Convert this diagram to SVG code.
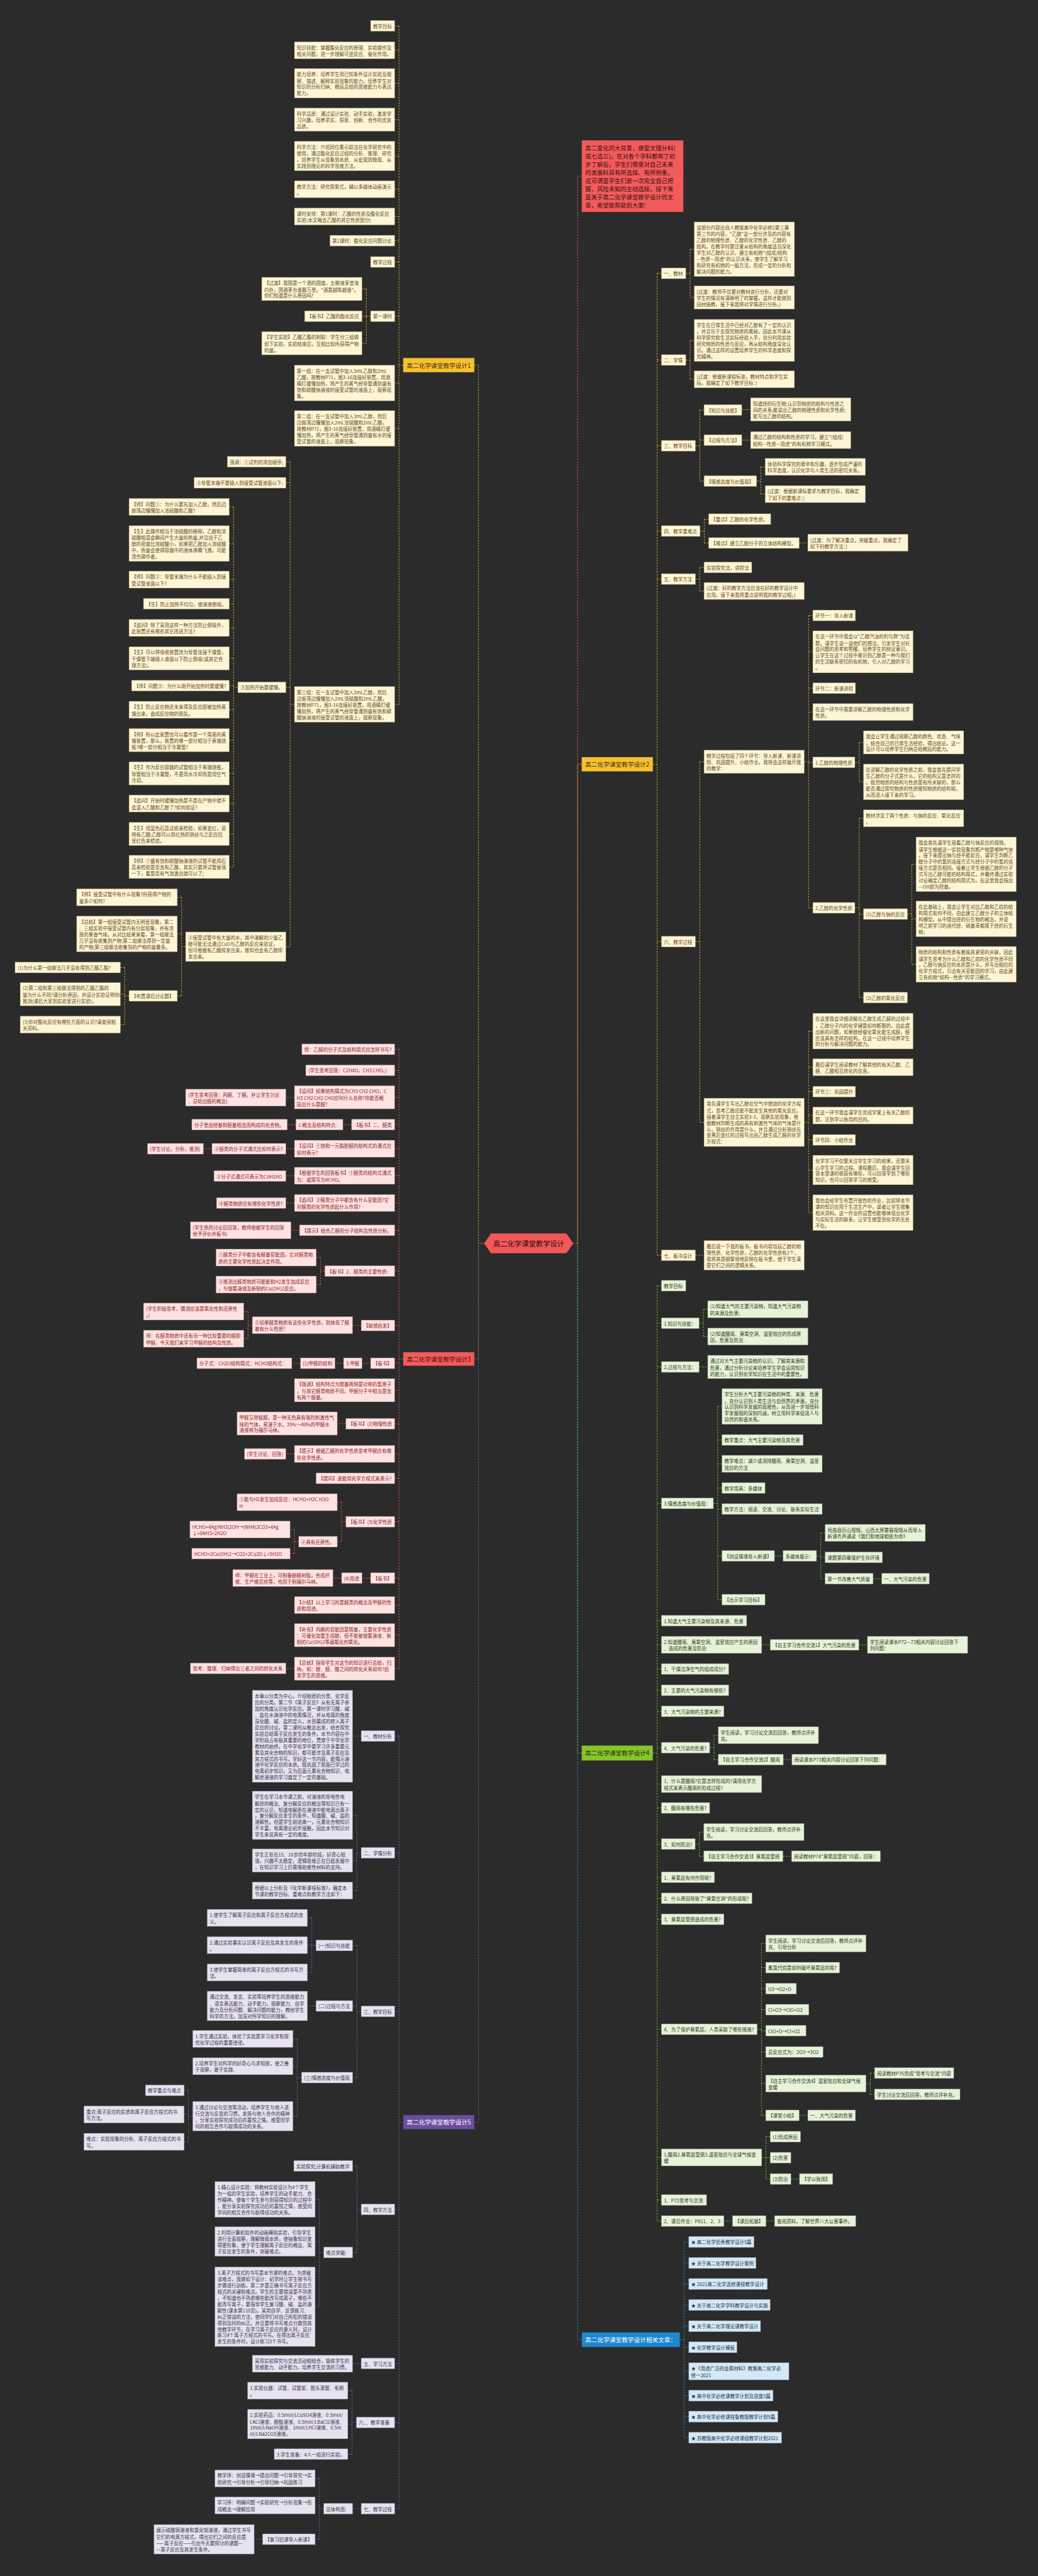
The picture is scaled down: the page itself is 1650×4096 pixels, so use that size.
<svg xmlns="http://www.w3.org/2000/svg" width="1650" height="4096" viewBox="0 0 1650 4096">
<defs>
<style>
text{font-family:"Noto Sans CJK SC","Noto Sans",sans-serif;font-size:11.7px;dominant-baseline:central}
.a{fill:#fdf5d5;stroke:#7a6d48;stroke-width:1;stroke-dasharray:3 2}
.ta{fill:#5e4b1c}
.r{fill:#fde2e2;stroke:#7d5a5a;stroke-width:1;stroke-dasharray:3 2}
.tr{fill:#8e2222}
.p{fill:#e6e2ef;stroke:#6e6880;stroke-width:1;stroke-dasharray:3 2}
.tp{fill:#37324a}
.g{fill:#e6f2d9;stroke:#66735a;stroke-width:1;stroke-dasharray:3 2}
.tg{fill:#2c3a20}
.b{fill:#d5e8f5;stroke:#5a6d7e;stroke-width:1;stroke-dasharray:3 2}
.tb{fill:#1c3146}
.c{fill:none;stroke-width:1.3;stroke-dasharray:4 3}
.cy{stroke:#e4bf3c}.cr{stroke:#e36464}.cp{stroke:#7a66ad}.cg{stroke:#8fc23c}.cb{stroke:#3a95d8}.ck{stroke:#ee6a6a}
.m{font-size:15px;text-anchor:middle}
</style>
</defs>
<rect width="1650" height="4096" fill="#2b2b2b"/>
<g transform="scale(0.644)">
<g id="connectors">
<path class="c ck" d="M1436,435H1425.6V3070H1415"/>
<path class="c cy" d="M1436,1887H1425.6V3070"/>
<path class="c cg" d="M1436,4328.3H1425.6V3070"/>
<path class="c cb" d="M1436,5776.8H1425.6V3070"/>
<path class="c cy" d="M1171,901.5H1181V3070H1195"/>
<path class="c cr" d="M1171,3355.3H1181V3070"/>
<path class="c cp" d="M1171,5239.8H1181V3070"/>
<path class="c cy" d="M995.3,901.5H984.8M984.8,63.9V1739.1M984.8,63.9H974.3M984.8,124.2H974.3M984.8,205.6H974.3M984.8,295.4H974.3M984.8,385.2H974.3M984.8,467.3H974.3M984.8,534.6H974.3M984.8,594.3H974.3M984.8,646.9H974.3M984.8,780.9H974.3M984.8,945.7H974.3M984.8,1057.9H974.3M984.8,1739.1H974.3
M914.7,780.9H904.2M904.2,713.5V847.5M904.2,713.5H893.7M904.2,780.9H893.7M904.2,847.5H893.7
M726.7,1739.1H716.2M716.2,1140V2337.5M716.2,1140H705.7M716.2,1192H705.7M716.2,1697H705.7M716.2,2337.5H705.7
M587,1697H576.5M576.5,1251.5V2140.4M576.5,1251.5H566M576.5,1342H566M576.5,1431H566M576.5,1490.7H566M576.5,1550.3H566M576.5,1625.5H566M576.5,1692.8H566M576.5,1752.4H566M576.5,1827.5H566M576.5,1909.6H566M576.5,1984H566M576.5,2059H566M576.5,2140.4H566
M458.1,2337.5H448.2M448.2,2215.5V2458.9M448.2,2215.5H437.7M448.2,2305.9H437.7M448.2,2458.9H437.7
M318.4,2458.9H307.9M307.9,2388.7V2529.8M307.9,2388.7H297.4M307.9,2454.7H297.4M307.9,2529.8H297.4"/>
<path class="c cr" d="M995.3,3355.3H984.8M984.8,2590.8V4120M984.8,2590.8H974.3M984.8,2642.7H974.3M984.8,2709.3H974.3M984.8,2776.7H974.3M984.8,2836.3H974.3M984.8,2903H974.3M984.8,2970.3H974.3M984.8,3037.7H974.3M984.8,3138.3H974.3M984.8,3272.7H974.3M984.8,3366H974.3M984.8,3432.6H974.3M984.8,3515.4H974.3M984.8,3589.8H974.3M984.8,3650H974.3M984.8,3757.4H974.3M984.8,3896.4H974.3M984.8,3963H974.3M984.8,4037.3H974.3M984.8,4120H974.3
M726.7,2709.6H705.7M867.7,2776.7H846.6M730.2,2776.7H709.2M726.7,2836.3H705.7M523.2,2836.3H502.2M726.7,2903.3H705.7M726.7,2970.3H705.7M739.3,3037.7H718.3
M801.7,3138.3H791.2M791.2,3105V3171.7M791.2,3105H780.7M791.2,3171.7H780.7
M891.5,3272.5H870.4M622.8,3272H612.3M612.3,3238.3V3305.4M612.3,3238.3H601.8M612.3,3305.4H601.8
M914.7,3366H893.7M848,3366H827M741.4,3366H720.4M853.6,3515.2H832.6M726.7,3589.8H705.7
M853.6,3757.4H843.1M843.1,3709V3806.6M843.1,3709H832.6M843.1,3806.6H832.6M737.2,3806.6H726.7M726.7,3776.4V3836M726.7,3776.4H716.2M726.7,3836H716.2
M914.7,3896.4H893.7M843.1,3896.4H822.1M726.7,4119.7H705.7"/>
<path class="c cp" d="M995.3,5239.8H984.8M984.8,4286.4V6194M984.8,4286.4H974.3M984.8,4574.8H974.3M984.8,4966.2H974.3M984.8,5455.2H974.3M984.8,5835.5H974.3M984.8,5981.2H974.3M984.8,6194H974.3
M891.5,4286.7H870.4M891.5,4574.8H881M881,4482.1V4668M881,4482.1H870.4M881,4593.7H870.4M881,4668H870.4
M891.5,4966.2H881M881,4803.4V5129.7M881,4803.4H870.5M881,4952.9H870.5M881,5129.7H870.5
M780,4803.4H769.5M769.5,4735.4V4870M769.5,4735.4H758.9M769.5,4802.7H758.9M769.5,4870H758.9M780,4952.9H758.9
M744.2,5129.7H733.7M733.7,5034.2V5225M733.7,5034.2H723.2M733.7,5101.6H723.2M733.7,5225H723.2
M475.6,5225H465.1M465.1,5161.2V5288.2M465.1,5161.2H454.6M465.1,5220.8H454.6M465.1,5288.2H454.6
M891.5,5455.2H881M881,5347.8V5561.4M881,5347.8H870.5M881,5561.4H870.5
M798.9,5561.4H788.4M788.4,5430.5V5695.4M788.4,5430.5H777.9M788.4,5534.3H777.9M788.4,5695.4H777.9
M891.5,5835.7H870.4M879.6,5981.2H869.1M869.1,5902.7V6059.3M869.1,5902.7H858.6M869.1,5985.2H858.6M869.1,6059.3H858.6
M891.5,6194H870.5M798.9,6194H788.4M788.4,6119.4V6269.5M788.4,6119.4H777.9M788.4,6186H777.9M788.4,6269.5H777.9M648.1,6269.5H627.5"/>
<path class="c cy" d="M1611.4,1887H1622M1622,674.9V3099.4M1622,674.9H1632.5M1622,888.9H1632.5M1622,1100.7H1632.5M1622,1311.2H1632.5M1622,1429.8H1632.5M1622,2324.9H1632.5M1622,3099.4H1632.5
M1692.9,674.9H1703.4M1703.4,615.3V734.5M1703.4,615.3H1713.4M1703.4,734.5H1713.4
M1692.9,888.9H1703.4M1703.4,840.5V936.6M1703.4,840.5H1713.4M1703.4,936.6H1713.4
M1716.7,1100.7H1727.2M1727.2,1012.4V1187.8M1727.2,1012.4H1737.7M1727.2,1086.7H1737.7M1727.2,1187.8H1737.7
M1831.1,1011.5H1852.6M1831.1,1086.7H1852.6M1867.6,1187.8H1878.1M1878.1,1152.7V1220M1878.1,1152.7H1888.6M1878.1,1220H1888.6
M1728,1311.2H1738.5M1738.5,1281.8V1340.7M1738.5,1281.8H1749M1738.5,1340.7H1749M1972.8,1340.4H1993.8
M1716.7,1429.8H1727.2M1727.2,1401V1459.2M1727.2,1401H1737.7M1727.2,1459.2H1737.7
M1716.7,2324.9H1727.2M1727.2,1880.8V2771.1M1727.2,1880.8H1737.7M1727.2,2771.1H1737.7
M1985.3,1880.8H1995.8M1995.8,1519.6V2241.5M1995.8,1519.6H2006.3M1995.8,1609.4H2006.3M1995.8,1699.2H2006.3M1995.8,1758H2006.3M1995.8,1882.3H2006.3M1995.8,2241.5H2006.3
M2110.2,1882.3H2120.7M2120.7,1833V1930.5M2120.7,1833H2131.2M2120.7,1930.5H2131.2
M2110.2,2241.5H2120.7M2120.7,2020.3V2463M2120.7,2020.3H2131.2M2120.7,2256.9H2131.2M2120.7,2463H2131.2
M2240,2256.9H2250.5M2250.5,2134V2381M2250.5,2134H2261M2250.5,2268.8H2261M2250.5,2381H2261
M1985.3,2771.1H1995.8M1995.8,2545.9V2994M1995.8,2545.9H2006.3M1995.8,2635H2006.3M1995.8,2695.4H2006.3M1995.8,2754.3H2006.3M1995.8,2814.6H2006.3M1995.8,2888.9H2006.3M1995.8,2994H2006.3
M1716.7,3099.4H1737.7"/>
<path class="c cg" d="M1611.4,4328.3H1622M1622,3174.5V5483.9M1622,3174.5H1632.5M1622,3267H1632.5M1622,3375H1632.5M1622,3711.9H1632.5M1622,4001.6H1632.5M1622,4061.2H1632.5M1622,4120.9H1632.5M1622,4173.4H1632.5M1622,4225.4H1632.5M1622,4315.2H1632.5M1622,4405H1632.5M1622,4463.9H1632.5M1622,4553H1632.5M1622,4635H1632.5M1622,4687H1632.5M1622,4738.9H1632.5M1622,5010.4H1632.5M1622,5326.8H1632.5M1622,5432H1632.5M1622,5483.9H1632.5
M1725.8,3267H1736.3M1736.3,3232.7V3300M1736.3,3232.7H1746.8M1736.3,3300H1746.8M1725.8,3375H1746.8
M1760.9,3711.9H1771.4M1771.4,3472.5V3949.7M1771.4,3472.5H1781.9M1771.4,3555.4H1781.9M1771.4,3614.3H1781.9M1771.4,3674H1781.9M1771.4,3725.9H1781.9M1771.4,3841.6H1781.9M1771.4,3949.7H1781.9
M1911.7,3841.6H1932.7M2015.5,3841.6H2026M2026,3784.8V3897.8M2026,3784.8H2036.5M2026,3845.2H2036.5M2026,3897.8H2036.5M2155.1,3897.8H2176.1
M1880.1,4061.2H1901.1M2120,4061.2H2141
M1751.8,4315.2H1762.3M1762.3,4284.3V4344.6M1762.3,4284.3H1772.8M1762.3,4344.6H1772.8M1933.5,4344.6H1954.5
M1716,4553H1726.5M1726.5,4523.5V4583.2M1726.5,4523.5H1737M1726.5,4583.2H1737M1932.7,4583.2H1953.7
M1869,5010.4H1879.5M1879.5,4798.5V5223M1879.5,4798.5H1890M1879.5,4858.2H1890M1879.5,4910H1890M1879.5,4962H1890M1879.5,5013.9H1890M1879.5,5066.5H1890M1879.5,5144.4H1890M1879.5,5223H1890
M2137.6,5144.4H2148.1M2148.1,5118.4V5171M2148.1,5118.4H2158.6M2148.1,5171H2158.6M1972.8,5223H1993.8
M1880.1,5326.8H1890.6M1890.6,5275.6V5380.1M1890.6,5275.6H1901.1M1890.6,5327.5H1901.1M1890.6,5380.1H1901.1M1952.3,5380.1H1973.3
M1786.9,5483.9H1807.9M1890.7,5483.9H1911.7"/>
<path class="c cb" d="M1678.1,5776.8H1688.6M1688.6,5535.5V6018.7M1688.6,5535.5H1699.9M1688.6,5587.4H1699.9M1688.6,5639.3H1699.9M1688.6,5691.1H1699.9M1688.6,5743.5H1699.9M1688.6,5795.4H1699.9M1688.6,5854.8H1699.9M1688.6,5914.9H1699.9M1688.6,5966.8H1699.9M1688.6,6018.7H1699.9"/>
</g>

<g id="center"><polygon points="1195,3070 1212,3045.5 1398,3045.5 1415,3070 1398,3094.5 1212,3094.5" fill="#f25858"/><text x="1305" y="3070" style="font-size:17.5px;text-anchor:middle;fill:#2b0b0b">高二化学课堂教学设计</text></g>

<g id="intro"><rect x="1436.1" y="346.6" width="250.5" height="176.7" fill="#f25b5b" stroke="#b03a3a" stroke-dasharray="3 2"/><text x="1444.6" y="364.8" style="font-size:14.5px;fill:#3a0c0c">高二变化的大背景，便是文理分科(<tspan x="1444.6" dy="20.3">或七选三)。在对各个学科都有了初</tspan><tspan x="1444.6" dy="20.3">步了解后，学生们需要对自己未来</tspan><tspan x="1444.6" dy="20.3">的发展科目有所选择、有所侧重。</tspan><tspan x="1444.6" dy="20.3">这可谓是学生们第一次完全自己把</tspan><tspan x="1444.6" dy="20.3">握、风险未知的主动选择。接下来</tspan><tspan x="1444.6" dy="20.3">是关于高二化学课堂教学设计的文</tspan><tspan x="1444.6" dy="20.3">章，希望能帮助到大家!</tspan></text></g>

<g id="main1"><rect x="995.3" y="884" width="175.4" height="35" fill="#f6c130" stroke="#b88f1c" stroke-dasharray="3 2"/><text class="m" x="1083" y="901.5" fill="#3b2f05">高二化学课堂教学设计1</text></g>
<g id="main2"><rect x="1436" y="1869.5" width="175.4" height="35" fill="#f6c130" stroke="#b88f1c" stroke-dasharray="3 2"/><text class="m" x="1523.7" y="1887" fill="#3b2f05">高二化学课堂教学设计2</text></g>
<g id="main3"><rect x="995.3" y="3338.6" width="175.4" height="33.4" fill="#f25b5b" stroke="#b03a3a" stroke-dasharray="3 2"/><text class="m" x="1083" y="3355.3" fill="#4a0a0a">高二化学课堂教学设计3</text></g>
<g id="main4"><rect x="1436" y="4310" width="175.4" height="36.6" fill="#86c42c" stroke="#5a8a1c" stroke-dasharray="3 2"/><text class="m" x="1523.7" y="4328.3" fill="#1c2b05">高二化学课堂教学设计4</text></g>
<g id="main5"><rect x="995.3" y="5222.2" width="175.4" height="35.1" fill="#6b4f9e" stroke="#4a3575" stroke-dasharray="3 2"/><text class="m" x="1083" y="5239.8" fill="#ffffff">高二化学课堂教学设计5</text></g>
<g id="main6"><rect x="1436.1" y="5758.8" width="242" height="36" fill="#1e88d0" stroke="#145f94" stroke-dasharray="3 2"/><text class="m" x="1557" y="5776.8" fill="#ffffff">高二化学课堂教学设计相关文章：</text></g>

<g id="s1a"><rect class="a" x="914.7" y="50.5" width="59.6" height="26.7"/><text class="ta" x="920.7" y="64">教学目标</text></g>
<g id="s1b"><rect class="a" x="726.7" y="103.1" width="247.6" height="42.1"/><text class="ta" x="732.7" y="116.6">知识技能：掌握酯化反应的原理、实验操作及<tspan x="732.7" dy="15.4">相关问题，进一步理解可逆反应、催化作用。</tspan></text></g>
<g id="s1c"><rect class="a" x="726.7" y="169.1" width="247.6" height="72.9"/><text class="ta" x="732.7" y="182.6">能力培养：培养学生用已知条件设计实验及观<tspan x="732.7" dy="15.4">察、描述、解释实验现象的能力，培养学生对</tspan><tspan x="732.7" dy="15.4">知识的分析归纳、概括总结的思维能力与表达</tspan><tspan x="732.7" dy="15.4">能力。</tspan></text></g>
<g id="s1d"><rect class="a" x="726.7" y="266.6" width="247.6" height="57.5"/><text class="ta" x="732.7" y="280.1">科学品质：通过设计实验、动手实验，激发学<tspan x="732.7" dy="15.4">习兴趣，培养求实、探索、创新、合作的优良</tspan><tspan x="732.7" dy="15.4">品质。</tspan></text></g>
<g id="s1e"><rect class="a" x="726.7" y="348.7" width="247.6" height="72.9"/><text class="ta" x="732.7" y="362.2">科学方法：介绍同位素示踪法在化学研究中的<tspan x="732.7" dy="15.4">使用，通过酯化反应过程的分析、推理、研究</tspan><tspan x="732.7" dy="15.4">，培养学生从现象到本质、从宏观到微观、从</tspan><tspan x="732.7" dy="15.4">实践到理论的科学思维方法。</tspan></text></g>
<g id="s1f"><rect class="a" x="726.7" y="446.2" width="247.6" height="42.1"/><text class="ta" x="732.7" y="459.7">教学方法：研究探索式，辅以多媒体动画演示<tspan x="732.7" dy="15.4">。</tspan></text></g>
<g id="s1g"><rect class="a" x="726.7" y="513.5" width="247.6" height="42.1"/><text class="ta" x="732.7" y="527">课时安排：第1课时：乙酸的性质及酯化反应<tspan x="732.7" dy="15.4">实验(本文略去乙酸的其它性质部分)</tspan></text></g>
<g id="s1h"><rect class="a" x="814.3" y="580.9" width="160" height="26.7"/><text class="ta" x="820.3" y="594.4">第2课时：酯化反应问题讨论</text></g>
<g id="s1i"><rect class="a" x="914.7" y="633.5" width="59.6" height="26.7"/><text class="ta" x="920.7" y="647">教学过程</text></g>
<g id="s1j"><rect class="a" x="914.7" y="767.5" width="59.6" height="26.7"/><text class="ta" x="920.7" y="781">第一课时</text></g>
<g id="s1j1"><rect class="a" x="646" y="684.7" width="247.6" height="57.5"/><text class="ta" x="652" y="698.2">【过渡】我国是一个酒的国度，五粮液享誉海<tspan x="652" dy="15.4">内外，国酒茅台香飘万里。"酒是越陈越香"。</tspan><tspan x="652" dy="15.4">你们知道是什么原因吗?</tspan></text></g>
<g id="s1j2"><rect class="a" x="751.9" y="767.5" width="141.7" height="26.7"/><text class="ta" x="757.9" y="781">【板书】乙酸的酯化反应</text></g>
<g id="s1j3"><rect class="a" x="646" y="818.7" width="247.6" height="57.5"/><text class="ta" x="652" y="832.2">【学生实验】乙酸乙酯的制取：学生分三组做<tspan x="652" dy="15.4">如下实验，实验结束后，互相比较所获得产物</tspan><tspan x="652" dy="15.4">的量。</tspan></text></g>
<g id="s1k"><rect class="a" x="726.7" y="901.5" width="247.6" height="88.3"/><text class="ta" x="732.7" y="915">第一组：在一支试管中加入3mL乙醇和2mL<tspan x="732.7" dy="15.4">乙酸，按教材P71，图3-16连接好装置，用酒</tspan><tspan x="732.7" dy="15.4">精灯缓慢加热，将产生的蒸气经导管通到盛有</tspan><tspan x="732.7" dy="15.4">饱和碳酸钠溶液的接受试管的液面上，观察现</tspan><tspan x="732.7" dy="15.4">象。</tspan></text></g>
<g id="s1l"><rect class="a" x="726.7" y="1013.7" width="247.6" height="88.3"/><text class="ta" x="732.7" y="1027.2">第二组：在一支试管中加入3mL乙醇，然后<tspan x="732.7" dy="15.4">边振荡边慢慢加入2mL浓硫酸和2mL乙酸，</tspan><tspan x="732.7" dy="15.4">按教材P71，图3-16连接好装置，用酒精灯缓</tspan><tspan x="732.7" dy="15.4">慢加热，将产生的蒸气经导管通到盛有水的接</tspan><tspan x="732.7" dy="15.4">受试管的液面上，观察现象。</tspan></text></g>
<g id="s1m"><rect class="a" x="726.7" y="1694.9" width="247.6" height="88.3"/><text class="ta" x="732.7" y="1708.4">第三组：在一支试管中加入3mL乙醇，然后<tspan x="732.7" dy="15.4">边振荡边慢慢加入2mL浓硫酸和2mL乙酸，</tspan><tspan x="732.7" dy="15.4">按教材P71，图3-16连接好装置，用酒精灯缓</tspan><tspan x="732.7" dy="15.4">慢加热，将产生的蒸气经导管通到盛有饱和碳</tspan><tspan x="732.7" dy="15.4">酸钠溶液的接受试管的液面上，观察现象。</tspan></text></g>
<g id="m1"><rect class="a" x="561.1" y="1126.7" width="144.6" height="26.7"/><text class="ta" x="567.1" y="1140.2">强调：①试剂的添加顺序;</text></g>
<g id="m2"><rect class="a" x="479" y="1178.6" width="226.7" height="26.7"/><text class="ta" x="485" y="1192.1">②导管末端不要插入到接受试管液面以下;</text></g>
<g id="m3"><rect class="a" x="587" y="1683.7" width="118.7" height="26.7"/><text class="ta" x="593" y="1697.2">③加热开始要缓慢。</text></g>
<g id="m3a"><rect class="a" x="318.4" y="1230.5" width="247.6" height="42.1"/><text class="ta" x="324.4" y="1244">【师】问题①：为什么要先加入乙醇，然后边<tspan x="324.4" dy="15.4">振荡边慢慢加入浓硫酸和乙酸?</tspan></text></g>
<g id="m3b"><rect class="a" x="318.4" y="1297.8" width="247.6" height="88.3"/><text class="ta" x="324.4" y="1311.3">【生】此操作相当于浓硫酸的稀释，乙醇和浓<tspan x="324.4" dy="15.4">硫酸相混会瞬间产生大量的热量,并且由于乙</tspan><tspan x="324.4" dy="15.4">醇的密度比浓硫酸小，如果把乙醇加入浓硫酸</tspan><tspan x="324.4" dy="15.4">中，热量会使得容器中的液体沸腾飞溅，可能</tspan><tspan x="324.4" dy="15.4">烫伤操作者。</tspan></text></g>
<g id="m3c"><rect class="a" x="318.4" y="1410" width="247.6" height="42.1"/><text class="ta" x="324.4" y="1423.5">【师】问题②：导管末端为什么不能插入到接<tspan x="324.4" dy="15.4">受试管液面以下?</tspan></text></g>
<g id="m3d"><rect class="a" x="354.1" y="1477.4" width="211.9" height="26.7"/><text class="ta" x="360.1" y="1490.9">【生】防止加热不均匀，使溶液倒吸。</text></g>
<g id="m3e"><rect class="a" x="318.4" y="1529.3" width="247.6" height="42.1"/><text class="ta" x="324.4" y="1542.8">【追问】除了采用这样一种方法防止倒吸外，<tspan x="324.4" dy="15.4">此装置还有哪些其它改进方法?</tspan></text></g>
<g id="m3f"><rect class="a" x="318.4" y="1596.7" width="247.6" height="57.5"/><text class="ta" x="324.4" y="1610.2">【生】可以将吸收装置改为导管连接干燥管，<tspan x="324.4" dy="15.4">干燥管下端插入液面以下防止倒吸(或其它合</tspan><tspan x="324.4" dy="15.4">理方法)。</tspan></text></g>
<g id="m3g"><rect class="a" x="324.7" y="1679.5" width="241.3" height="26.7"/><text class="ta" x="330.7" y="1693">【师】问题③：为什么刚开始加热时要缓慢?</text></g>
<g id="m3h"><rect class="a" x="318.4" y="1731.4" width="247.6" height="42.1"/><text class="ta" x="324.4" y="1744.9">【生】防止反应物还未来得及反应即被加热蒸<tspan x="324.4" dy="15.4">馏出来，造成反应物的损失。</tspan></text></g>
<g id="m3i"><rect class="a" x="318.4" y="1798.7" width="247.6" height="57.5"/><text class="ta" x="324.4" y="1812.2">【师】所以此装置也可以看作是一个简易的蒸<tspan x="324.4" dy="15.4">馏装置，那么，装置的哪一部分相当于蒸馏烧</tspan><tspan x="324.4" dy="15.4">瓶?哪一部分相当于冷凝管?</tspan></text></g>
<g id="m3j"><rect class="a" x="318.4" y="1880.8" width="247.6" height="57.5"/><text class="ta" x="324.4" y="1894.3">【生】作为反应容器的试管相当于蒸馏烧瓶，<tspan x="324.4" dy="15.4">导管相当于冷凝管，不是用水冷却而是用空气</tspan><tspan x="324.4" dy="15.4">冷却。</tspan></text></g>
<g id="m3k"><rect class="a" x="318.4" y="1962.9" width="247.6" height="42.1"/><text class="ta" x="324.4" y="1976.4">【追问】开始时缓慢加热是不是在产物中就不<tspan x="324.4" dy="15.4">会混入乙酸和乙醇了?如何验证?</tspan></text></g>
<g id="m3l"><rect class="a" x="318.4" y="2030.2" width="247.6" height="57.5"/><text class="ta" x="324.4" y="2043.7">【生】用蓝色石蕊试纸来检验，如果变红，说<tspan x="324.4" dy="15.4">明有乙酸;乙醇可以用红热的铜丝与之反应后</tspan><tspan x="324.4" dy="15.4">显红色来检验。</tspan></text></g>
<g id="m3m"><rect class="a" x="318.4" y="2111.6" width="247.6" height="57.5"/><text class="ta" x="324.4" y="2125.1">【师】①盛有饱和碳酸钠溶液的试管不能用石<tspan x="324.4" dy="15.4">蕊来检验是否含有乙酸，其实只要将试管振荡</tspan><tspan x="324.4" dy="15.4">一下，看是否有气泡逸出就可以了;</tspan></text></g>
<g id="m4"><rect class="a" x="458.1" y="2301" width="247.6" height="72.9"/><text class="ta" x="464.1" y="2314.5">②接受试管中有大量的水，其中溶解的少量乙<tspan x="464.1" dy="15.4">醇可能无法通过CuO与乙醇的反应来验证，</tspan><tspan x="464.1" dy="15.4">但可根据有乙酸挥发出来，推知也会有乙醇挥</tspan><tspan x="464.1" dy="15.4">发出来。</tspan></text></g>
<g id="m4a"><rect class="a" x="189.1" y="2194.4" width="248.6" height="42.1"/><text class="ta" x="195.1" y="2207.9">【师】接受试管中有什么现象?所获得产物的<tspan x="195.1" dy="15.4">量多少如何?</tspan></text></g>
<g id="m4b"><rect class="a" x="189.1" y="2261.7" width="248.6" height="88.3"/><text class="ta" x="195.1" y="2275.2">【总结】第一组接受试管内无明显现象，第二<tspan x="195.1" dy="15.4">、三组实验中接受试管内有分层现象，并有浓</tspan><tspan x="195.1" dy="15.4">厚的果香气味。从对比结果来看，第一组做法</tspan><tspan x="195.1" dy="15.4">几乎没有收集到产物;第二组做法得到一定量</tspan><tspan x="195.1" dy="15.4">的产物;第三组做法收集到的产物的量最多。</tspan></text></g>
<g id="m4c"><rect class="a" x="318.4" y="2445.5" width="119.3" height="26.7"/><text class="ta" x="324.4" y="2459">【布置课后讨论题】</text></g>
<g id="m4c1"><rect class="a" x="37" y="2375.4" width="260.4" height="26.7"/><text class="ta" x="43" y="2388.9">(1)为什么第一组做法几乎没有得到乙酸乙酯?</text></g>
<g id="m4c2"><rect class="a" x="49.8" y="2425.9" width="247.6" height="57.5"/><text class="ta" x="55.8" y="2439.4">(2)第二组和第三组做法得到的乙酸乙酯的<tspan x="55.8" dy="15.4">量为什么不同?请分析原因，并设计实验证明你的</tspan><tspan x="55.8" dy="15.4">推测(课后大家到实验室进行实验)。</tspan></text></g>
<g id="m4c3"><rect class="a" x="49.8" y="2508.7" width="247.6" height="42.1"/><text class="ta" x="55.8" y="2522.2">(3)你对酯化反应有哪些方面的认识?请查阅相<tspan x="55.8" dy="15.4">关资料。</tspan></text></g>

<g id="r1"><rect class="r" x="744.9" y="2577.4" width="229.4" height="26.7"/><text class="tr" x="750.9" y="2590.9">师：乙醛的分子式及结构简式应怎样书写?</text></g>
<g id="r2"><rect class="r" x="754.7" y="2629.3" width="219.6" height="26.7"/><text class="tr" x="760.7" y="2642.8">(学生思考回答：C2H4O，CH3 CHO。)</text></g>
<g id="r3"><rect class="r" x="726.7" y="2680.5" width="247.6" height="57.5"/><text class="tr" x="732.7" y="2694">【设问】如果结构简式为CH3 CH2 CHO，C<tspan x="732.7" dy="15.4">H3 CH2 CH2 CHO应叫什么名称?你能否概</tspan><tspan x="732.7" dy="15.4">括出什么是醛?</tspan></text></g>
<g id="r3a"><rect class="r" x="458.1" y="2689" width="247.6" height="42.1"/><text class="tr" x="464.1" y="2702.5">(学生思考回答：丙醛、丁醛。并让学生讨论<tspan x="464.1" dy="15.4">、总结出醛的概念)</tspan></text></g>
<g id="r4"><rect class="r" x="867.7" y="2763.3" width="106.6" height="26.7"/><text class="tr" x="873.7" y="2776.8">【板书】二、醛类</text></g>
<g id="r4a"><rect class="r" x="730.2" y="2763.3" width="116.4" height="26.7"/><text class="tr" x="736.2" y="2776.8">1.概念及结构特点:</text></g>
<g id="r4a1"><rect class="r" x="473.4" y="2763.3" width="235.8" height="26.7"/><text class="tr" x="479.4" y="2776.8">分子里由烃基和醛基相连而构成的化合物。</text></g>
<g id="r5"><rect class="r" x="726.7" y="2815.2" width="247.6" height="42.1"/><text class="tr" x="732.7" y="2828.7">【设问】①饱和一元脂肪醛的结构式的通式应<tspan x="732.7" dy="15.4">如何表示?</tspan></text></g>
<g id="r5a"><rect class="r" x="523.2" y="2823" width="182.5" height="26.7"/><text class="tr" x="529.2" y="2836.5">②醛类的分子式通式应如何表示?</text></g>
<g id="r5a1"><rect class="r" x="364" y="2823" width="138.2" height="26.7"/><text class="tr" x="370" y="2836.5">(学生讨论，分析，推测)</text></g>
<g id="r6"><rect class="r" x="726.7" y="2881.9" width="247.6" height="42.1"/><text class="tr" x="732.7" y="2895.4">【根据学生的回答板书】①醛类的结构式通式<tspan x="732.7" dy="15.4">为：或简写为RCHO。</tspan></text></g>
<g id="r6a"><rect class="r" x="528.1" y="2890.3" width="177.6" height="26.7"/><text class="tr" x="534.1" y="2903.8">②分子式通式可表示为CnH2nO</text></g>
<g id="r7"><rect class="r" x="726.7" y="2949.2" width="247.6" height="42.1"/><text class="tr" x="732.7" y="2962.7">【追问】③醛类分子中都含有什么官能团?它<tspan x="732.7" dy="15.4">对醛类的化学性质起什么作用?</tspan></text></g>
<g id="r7a"><rect class="r" x="534.4" y="2957" width="171.3" height="26.7"/><text class="tr" x="540.4" y="2970.5">④醛类物质应有哪些化学性质?</text></g>
<g id="r8"><rect class="r" x="739.3" y="3024.3" width="235" height="26.7"/><text class="tr" x="745.3" y="3037.8">【提示】结合乙醛的分子结构及性质分析。</text></g>
<g id="r8a"><rect class="r" x="469.9" y="3016.6" width="248.4" height="42.1"/><text class="tr" x="475.9" y="3030.1">(学生热烈讨论后回答，教师根据学生的回答<tspan x="475.9" dy="15.4">给予评价并板书)</tspan></text></g>
<g id="r9"><rect class="r" x="801.7" y="3125" width="172.6" height="26.7"/><text class="tr" x="807.7" y="3138.5">【板书】2、醛类的主要性质:</text></g>
<g id="r9a"><rect class="r" x="533.1" y="3083.9" width="247.6" height="42.1"/><text class="tr" x="539.1" y="3097.4">①醛类分子中都含有醛基官能团，它对醛类物<tspan x="539.1" dy="15.4">质的主要化学性质起决定作用。</tspan></text></g>
<g id="r9b"><rect class="r" x="533.1" y="3150.6" width="247.6" height="42.1"/><text class="tr" x="539.1" y="3164.1">②推测出醛类物质可能能和H2发生加成反应<tspan x="539.1" dy="15.4">，与银氨溶液及新制的Cu(OH)2反应。</tspan></text></g>
<g id="r10"><rect class="r" x="891.5" y="3259.3" width="82.8" height="26.7"/><text class="tr" x="897.5" y="3272.8">【联想启发】</text></g>
<g id="r10a"><rect class="r" x="622.8" y="3250.9" width="247.6" height="42.1"/><text class="tr" x="628.8" y="3264.4">⑤如果醛类物质有这些化学性质，则体现了醛<tspan x="628.8" dy="15.4">基有什么性质?</tspan></text></g>
<g id="r10a1"><rect class="r" x="354.2" y="3217.2" width="247.6" height="42.1"/><text class="tr" x="360.2" y="3230.7">(学生积极思考，猜测应该是氧化性和还原性<tspan x="360.2" dy="15.4">。)</tspan></text></g>
<g id="r10a2"><rect class="r" x="354.2" y="3284.3" width="247.6" height="42.1"/><text class="tr" x="360.2" y="3297.8">师：在醛类物质中还有另一种比较重要的醛即<tspan x="360.2" dy="15.4">甲醛，今天我们来学习甲醛的结构及性质。</tspan></text></g>
<g id="r11"><rect class="r" x="914.7" y="3352.6" width="59.6" height="26.7"/><text class="tr" x="920.7" y="3366.1">【板书】</text></g>
<g id="r11a"><rect class="r" x="848" y="3352.6" width="45.7" height="26.7"/><text class="tr" x="854" y="3366.1">3.甲醛</text></g>
<g id="r11b"><rect class="r" x="741.4" y="3352.6" width="85.6" height="26.7"/><text class="tr" x="747.4" y="3366.1">(1)甲醛的结构</text></g>
<g id="r11c"><rect class="r" x="486" y="3352.6" width="234.4" height="26.7"/><text class="tr" x="492" y="3366.1">分子式：CH2O结构简式：HCHO结构式：</text></g>
<g id="r12"><rect class="r" x="726.7" y="3403.8" width="247.6" height="57.5"/><text class="tr" x="732.7" y="3417.3">【强调】结构特点为羰基两侧是对称的氢原子<tspan x="732.7" dy="15.4">，与其它醛类物质不同，甲醛分子中相当是含</tspan><tspan x="732.7" dy="15.4">有两个醛基。</tspan></text></g>
<g id="r13"><rect class="r" x="853.6" y="3502" width="120.7" height="26.7"/><text class="tr" x="859.6" y="3515.5">【板书】(2)物理性质</text></g>
<g id="r13a"><rect class="r" x="585" y="3485.9" width="247.6" height="57.5"/><text class="tr" x="591" y="3499.4">甲醛又称蚁醛，是一种无色具有强烈刺激性气<tspan x="591" dy="15.4">味的气体，易溶于水。35%～40%的甲醛水</tspan><tspan x="591" dy="15.4">溶液称为福尔马林。</tspan></text></g>
<g id="r14"><rect class="r" x="726.7" y="3568.7" width="247.6" height="42.1"/><text class="tr" x="732.7" y="3582.2">【提示】根据乙醛的化学性质思考甲醛应有哪<tspan x="732.7" dy="15.4">些化学性质。</tspan></text></g>
<g id="r14a"><rect class="r" x="603.2" y="3576.4" width="102.5" height="26.7"/><text class="tr" x="609.2" y="3589.9">(学生讨论、回答)</text></g>
<g id="r15"><rect class="r" x="780" y="3636.7" width="194.3" height="26.7"/><text class="tr" x="786" y="3650.2">【提问】谁能用化学方程式来表示?</text></g>
<g id="r16"><rect class="r" x="853.6" y="3744" width="120.7" height="26.7"/><text class="tr" x="859.6" y="3757.5">【板书】(3)化学性质</text></g>
<g id="r16a"><rect class="r" x="585" y="3688" width="247.6" height="42.1"/><text class="tr" x="591" y="3701.5">①能与H2发生加成反应：HCHO+H2C H3O<tspan x="591" dy="15.4">H</tspan></text></g>
<g id="r16b"><rect class="r" x="737.2" y="3793.2" width="95.4" height="26.7"/><text class="tr" x="743.2" y="3806.7">②具有还原性。</text></g>
<g id="r16b1"><rect class="r" x="468.6" y="3755.3" width="247.6" height="42.1"/><text class="tr" x="474.6" y="3768.8">HCHO+4Ag(NH3)2OH→(NH4)2CO3+4Ag<tspan x="474.6" dy="15.4">↓+6NH3+2H2O</tspan></text></g>
<g id="r16b2"><rect class="r" x="473.4" y="3822.6" width="242.8" height="26.7"/><text class="tr" x="479.4" y="3836.1">HCHO+2Cu(OH)2→CO2+2Cu2O↓+5H2O</text></g>
<g id="r17"><rect class="r" x="914.7" y="3883" width="59.6" height="26.7"/><text class="tr" x="920.7" y="3896.5">【板书】</text></g>
<g id="r17a"><rect class="r" x="843.1" y="3883" width="50.6" height="26.7"/><text class="tr" x="849.1" y="3896.5">(4)用途</text></g>
<g id="r17b"><rect class="r" x="574.5" y="3875.2" width="247.6" height="42.1"/><text class="tr" x="580.5" y="3888.7">师：甲醛在工业上，可制备酚醛树脂，合成纤<tspan x="580.5" dy="15.4">维、生产维尼纶等，也用于制福尔马林。</tspan></text></g>
<g id="r18"><rect class="r" x="726.7" y="3941.9" width="247.6" height="42.1"/><text class="tr" x="732.7" y="3955.4">【小结】以上学习的是醛类的概念及甲醛的性<tspan x="732.7" dy="15.4">质和用途。</tspan></text></g>
<g id="r19"><rect class="r" x="726.7" y="4008.5" width="247.6" height="57.5"/><text class="tr" x="732.7" y="4022">【补充】丙酮的官能团是羰基，主要化学性质<tspan x="732.7" dy="15.4">：可催化加氢生成醇，但不能被银氨溶液、新</tspan><tspan x="732.7" dy="15.4">制的Cu(OH)2等弱氧化剂氧化。</tspan></text></g>
<g id="r20"><rect class="r" x="726.7" y="4091.3" width="247.6" height="57.5"/><text class="tr" x="732.7" y="4104.8">【总结】指导学生对这节的知识进行总结，归<tspan x="732.7" dy="15.4">纳，如：醇、醛、酸之间的转化关系如何?启</tspan><tspan x="732.7" dy="15.4">发学生的思维。</tspan></text></g>
<g id="r20a"><rect class="r" x="469.9" y="4106" width="235.8" height="26.7"/><text class="tr" x="475.9" y="4119.5">思考、整理、归纳得出三者之间的转化关系</text></g>

<g id="p1"><rect class="p" x="891.5" y="4273" width="82.8" height="26.7"/><text class="tp" x="897.5" y="4286.5">一、教材分析</text></g>
<g id="p1a"><rect class="p" x="622.8" y="4173.4" width="247.6" height="227.2"/><text class="tp" x="628.8" y="4186.9">本章以分类为中心，介绍物质的分类、化学反<tspan x="628.8" dy="15.4">应的分类。第二节《离子反应》从有无离子参</tspan><tspan x="628.8" dy="15.4">加的角度认识化学反应。第一课时学习酸、碱</tspan><tspan x="628.8" dy="15.4">、盐在水溶液中的电离情况，并从电离的角度</tspan><tspan x="628.8" dy="15.4">深化酸、碱、盐的定义，水到渠成的转入离子</tspan><tspan x="628.8" dy="15.4">反应的讨论。第二课时从概念出发，结合探究</tspan><tspan x="628.8" dy="15.4">实验总结离子反应发生的条件。本节内容在中</tspan><tspan x="628.8" dy="15.4">学阶段占有极其重要的地位，贯穿于中学化学</tspan><tspan x="628.8" dy="15.4">教材的始终。在中学化学中要学习许多重要元</tspan><tspan x="628.8" dy="15.4">素及其化合物的知识，都可能涉及离子反应及</tspan><tspan x="628.8" dy="15.4">其方程式的书写。学好这一节内容，能揭示溶</tspan><tspan x="628.8" dy="15.4">液中化学反应的本质。既巩固了前面已学过的</tspan><tspan x="628.8" dy="15.4">电离初步知识，又为后面元素化合物知识、电</tspan><tspan x="628.8" dy="15.4">解质溶液的学习奠定了一定的基础。</tspan></text></g>
<g id="p2"><rect class="p" x="891.5" y="4561.4" width="82.8" height="26.7"/><text class="tp" x="897.5" y="4574.9">二、学情分析</text></g>
<g id="p2a"><rect class="p" x="622.8" y="4422.4" width="247.6" height="119.4"/><text class="tp" x="628.8" y="4435.9">学生在学习本节课之前，对溶液的导电性电<tspan x="628.8" dy="15.4">解质的概念、复分解反应的概念等知识已有一</tspan><tspan x="628.8" dy="15.4">定的认识，知道电解质在溶液中能电离出离子</tspan><tspan x="628.8" dy="15.4">，复分解反应发生的条件，知道酸、碱、盐的</tspan><tspan x="628.8" dy="15.4">溶解性。但是学生刚进高一，元素化合物知识</tspan><tspan x="628.8" dy="15.4">不丰富，电离理论初步接触，因此本节知识对</tspan><tspan x="628.8" dy="15.4">学生来说具有一定的难度。</tspan></text></g>
<g id="p2b"><rect class="p" x="622.8" y="4564.9" width="247.6" height="57.5"/><text class="tp" x="628.8" y="4578.4">学生正处在15、16岁的年龄阶段，好奇心较<tspan x="628.8" dy="15.4">强，兴趣不太稳定，逻辑思维正在日趋发展中</tspan><tspan x="628.8" dy="15.4">，在知识学习上仍需借助感性材料的支持。</tspan></text></g>
<g id="p2c"><rect class="p" x="622.8" y="4646.9" width="247.6" height="42.1"/><text class="tp" x="628.8" y="4660.4">根据以上分析及《化学新课程标准》，确定本<tspan x="628.8" dy="15.4">节课的教学目标、重难点和教学方法如下：</tspan></text></g>
<g id="p3"><rect class="p" x="891.5" y="4952.8" width="82.8" height="26.7"/><text class="tp" x="897.5" y="4966.3">三、教学目标</text></g>
<g id="p3a"><rect class="p" x="780" y="4790" width="90.5" height="26.7"/><text class="tp" x="786" y="4803.5">(一)知识与技能</text></g>
<g id="p3a1"><rect class="p" x="511.3" y="4714.3" width="247.6" height="42.1"/><text class="tp" x="517.3" y="4727.8">1.使学生了解离子反应和离子反应方程式的含<tspan x="517.3" dy="15.4">义。</tspan></text></g>
<g id="p3a2"><rect class="p" x="511.3" y="4781.6" width="247.6" height="42.1"/><text class="tp" x="517.3" y="4795.1">2.通过实验事实认识离子反应及其发生的条件<tspan x="517.3" dy="15.4">。</tspan></text></g>
<g id="p3a3"><rect class="p" x="511.3" y="4849" width="247.6" height="42.1"/><text class="tp" x="517.3" y="4862.5">3.使学生掌握简单的离子反应方程式的书写方<tspan x="517.3" dy="15.4">法。</tspan></text></g>
<g id="p3b"><rect class="p" x="780" y="4939.5" width="90.5" height="26.7"/><text class="tp" x="786" y="4953">(二)过程与方法</text></g>
<g id="p3b1"><rect class="p" x="511.3" y="4916.3" width="247.6" height="72.9"/><text class="tp" x="517.3" y="4929.8">通过交流、发言、实验等培养学生的思维能力<tspan x="517.3" dy="15.4">、语言表达能力、动手能力，观察能力、自学</tspan><tspan x="517.3" dy="15.4">能力及分析问题、解决问题的能力，教给学生</tspan><tspan x="517.3" dy="15.4">科学的方法，加深对所学知识的理解。</tspan></text></g>
<g id="p3c"><rect class="p" x="744.2" y="5116.3" width="126.3" height="26.7"/><text class="tp" x="750.2" y="5129.8">(三)情感态度与价值观</text></g>
<g id="p3c1"><rect class="p" x="475.6" y="5013.1" width="247.6" height="42.1"/><text class="tp" x="481.6" y="5026.6">1.学生通过实验，体验了实验是学习化学和探<tspan x="481.6" dy="15.4">究化学过程的重要途径。</tspan></text></g>
<g id="p3c2"><rect class="p" x="475.6" y="5080.5" width="247.6" height="42.1"/><text class="tp" x="481.6" y="5094">2.培养学生对科学的好奇心与求知欲，使之善<tspan x="481.6" dy="15.4">于观察，敢于实践.</tspan></text></g>
<g id="p3c3"><rect class="p" x="475.6" y="5188.5" width="247.6" height="72.9"/><text class="tp" x="481.6" y="5202">3.通过讨论与交流等活动，培养学生与他人进<tspan x="481.6" dy="15.4">行交流与反思的习惯。发扬与他人合作的精神</tspan><tspan x="481.6" dy="15.4">，分享实验探究成功后的喜悦之情。感受同学</tspan><tspan x="481.6" dy="15.4">间的相互合作与取得成功的关系。</tspan></text></g>
<g id="p3c3a"><rect class="p" x="359" y="5147.8" width="95.6" height="26.7"/><text class="tp" x="365" y="5161.3">教学重点与难点</text></g>
<g id="p3c3b"><rect class="p" x="207" y="5199.7" width="247.6" height="42.1"/><text class="tp" x="213" y="5213.2">重点:离子反应的实质和离子反应方程式的书<tspan x="213" dy="15.4">写方法。</tspan></text></g>
<g id="p3c3c"><rect class="p" x="207" y="5267.1" width="247.6" height="42.1"/><text class="tp" x="213" y="5280.6">难点：实验现象的分析、离子反应方程式的书<tspan x="213" dy="15.4">写。</tspan></text></g>
<g id="p4"><rect class="p" x="891.5" y="5441.8" width="82.8" height="26.7"/><text class="tp" x="897.5" y="5455.3">四、教学方法</text></g>
<g id="p4a"><rect class="p" x="725.2" y="5334.4" width="145.3" height="26.7"/><text class="tp" x="731.2" y="5347.9">实验探究;计算机辅助教学</text></g>
<g id="p4b"><rect class="p" x="798.9" y="5548" width="71.6" height="26.7"/><text class="tp" x="804.9" y="5561.5">难点突破:</text></g>
<g id="p4b1"><rect class="p" x="530.3" y="5386.3" width="247.6" height="88.3"/><text class="tp" x="536.3" y="5399.8">1.精心设计实验：将教材实验设计为4个学生<tspan x="536.3" dy="15.4">为一组的学生实验，培养学生的动手能力、合</tspan><tspan x="536.3" dy="15.4">作精神。使每个学生参与到获得知识的过程中</tspan><tspan x="536.3" dy="15.4">，能分享实验探究成功后的喜悦之情，感受同</tspan><tspan x="536.3" dy="15.4">学间的相互合作与取得成功的关系。</tspan></text></g>
<g id="p4b2"><rect class="p" x="530.3" y="5497.8" width="247.6" height="72.9"/><text class="tp" x="536.3" y="5511.3">2.利用计算机软件的动画模拟实验，引导学生<tspan x="536.3" dy="15.4">进行全面观察，理解微观本质，使抽象知识变</tspan><tspan x="536.3" dy="15.4">得更形象，便于学生理解离子反应的概念、离</tspan><tspan x="536.3" dy="15.4">子反应发生的条件，突破难点。</tspan></text></g>
<g id="p4b3"><rect class="p" x="530.3" y="5597.2" width="247.6" height="196.4"/><text class="tp" x="536.3" y="5610.7">3.离子方程式的书写是本节课的难点。为突破<tspan x="536.3" dy="15.4">该难点，我做如下设计：初学时让学生按书写</tspan><tspan x="536.3" dy="15.4">步骤进行训练。第二步是正确书写离子反应方</tspan><tspan x="536.3" dy="15.4">程式的关键和难点。学生的主要错误是不熟悉</tspan><tspan x="536.3" dy="15.4">，不知道也不熟悉哪些能改写成离子，哪些不</tspan><tspan x="536.3" dy="15.4">能改写离子，要指导学生复习酸、碱、盐的溶</tspan><tspan x="536.3" dy="15.4">解性(课本第110页)。采用自学、反馈练习、</tspan><tspan x="536.3" dy="15.4">纠正错误的方法，使同学们对自己所犯的错误</tspan><tspan x="536.3" dy="15.4">得到及时的纠正。并且要将书写难点分散到其</tspan><tspan x="536.3" dy="15.4">他教学环节，在学习离子反应的意义时，设计</tspan><tspan x="536.3" dy="15.4">练习4个离子方程式的书写。在得出离子反应</tspan><tspan x="536.3" dy="15.4">发生的条件时，设计练习3个书写。</tspan></text></g>
<g id="p5"><rect class="p" x="891.5" y="5822.1" width="82.8" height="26.7"/><text class="tp" x="897.5" y="5835.6">五、学习方法</text></g>
<g id="p5a"><rect class="p" x="622.8" y="5815" width="247.6" height="42.1"/><text class="tp" x="628.8" y="5828.5">采用实验探究与交流活动相结合，锻炼学生的<tspan x="628.8" dy="15.4">思维能力、动手能力，培养学生交流的习惯。</tspan></text></g>
<g id="p6"><rect class="p" x="879.6" y="5967.8" width="94.7" height="26.7"/><text class="tp" x="885.6" y="5981.3">六、、教学准备</text></g>
<g id="p6a"><rect class="p" x="611" y="5881.6" width="247.6" height="42.1"/><text class="tp" x="617" y="5895.1">1.实验仪器：试管、试管架、胶头滴管、毛刷<tspan x="617" dy="15.4">。</tspan></text></g>
<g id="p6b"><rect class="p" x="611" y="5948.7" width="247.6" height="72.9"/><text class="tp" x="617" y="5962.2">2.实验药品：0.5mol/LCuSO4溶液、0.5mol/<tspan x="617" dy="15.4">LKCl溶液、酚酞溶液、0.5mol/LBaCl2溶液、</tspan><tspan x="617" dy="15.4">1mol/LNaOH溶液、1mol/LHCl溶液、0.5m</tspan><tspan x="617" dy="15.4">ol/LNa2CO3溶液。</tspan></text></g>
<g id="p6c"><rect class="p" x="676.8" y="6045.9" width="181.8" height="26.7"/><text class="tp" x="682.8" y="6059.4">3.学生准备：4人一组进行实验。</text></g>
<g id="p7"><rect class="p" x="891.5" y="6180.7" width="82.8" height="26.7"/><text class="tp" x="897.5" y="6194.2">七、教学过程</text></g>
<g id="p7a"><rect class="p" x="798.9" y="6180.7" width="71.6" height="26.7"/><text class="tp" x="804.9" y="6194.2">总体构思:</text></g>
<g id="p7a1"><rect class="p" x="530.3" y="6098.3" width="247.6" height="42.1"/><text class="tp" x="536.3" y="6111.8">教学序：创设情境→提出问题→引导探究→实<tspan x="536.3" dy="15.4">验研究→引导分析→引导归纳→巩固练习</tspan></text></g>
<g id="p7a2"><rect class="p" x="530.3" y="6164.9" width="247.6" height="42.1"/><text class="tp" x="536.3" y="6178.4">学习序：明确问题→实验研究→分析现象→形<tspan x="536.3" dy="15.4">成概念→理解应用</tspan></text></g>
<g id="p7a3"><rect class="p" x="648.1" y="6256.1" width="129.8" height="26.7"/><text class="tp" x="654.1" y="6269.6">【复习旧课导入新课】</text></g>
<g id="p7a3a"><rect class="p" x="379.9" y="6233.2" width="247.6" height="72.9"/><text class="tp" x="385.9" y="6246.7">展示硫酸铜溶液和氯化钡溶液，通过学生书写<tspan x="385.9" dy="15.4">它们的电离方程式，得出它们之间的反应是</tspan><tspan x="385.9" dy="15.4">——离子反应——引出今天要探讨的课题—</tspan><tspan x="385.9" dy="15.4">—离子反应及其发生条件。</tspan></text></g>

<g id="q1"><rect class="a" x="1632.5" y="661.5" width="60.4" height="26.7"/><text class="ta" x="1638.5" y="675">一、教材</text></g>
<g id="q1a"><rect class="a" x="1713.4" y="547.9" width="247.6" height="134.8"/><text class="ta" x="1719.4" y="561.4">该部分内容出自人教版高中化学必修2第三章<tspan x="1719.4" dy="15.4">第三节的内容，"乙醇"这一部分涉及的内容有</tspan><tspan x="1719.4" dy="15.4">乙醇的物理性质、乙醇的化学性质、乙醇的</tspan><tspan x="1719.4" dy="15.4">结构。在教学时要注意从结构的角度适当深化</tspan><tspan x="1719.4" dy="15.4">学生对乙醇的认识，建立有机物"(组成)结构</tspan><tspan x="1719.4" dy="15.4">—性质—用途"的认识关系，使学生了解学习</tspan><tspan x="1719.4" dy="15.4">和研究有机物的一般方法，形成一定的分析和</tspan><tspan x="1719.4" dy="15.4">解决问题的能力。</tspan></text></g>
<g id="q1b"><rect class="a" x="1713.4" y="705.7" width="247.6" height="57.5"/><text class="ta" x="1719.4" y="719.2">(过渡：教师不仅要对教材进行分析，还要对<tspan x="1719.4" dy="15.4">学生的情况有清晰明了的掌握，这样才能做到</tspan><tspan x="1719.4" dy="15.4">因材施教，接下来我将对学情进行分析。)</tspan></text></g>
<g id="q2"><rect class="a" x="1632.5" y="875.5" width="60.4" height="26.7"/><text class="ta" x="1638.5" y="889">二、学情</text></g>
<g id="q2a"><rect class="a" x="1713.4" y="788.5" width="247.6" height="104"/><text class="ta" x="1719.4" y="802">学生在日常生活中已经对乙醇有了一定的认识<tspan x="1719.4" dy="15.4">，并且乐于去探究物质的奥秘，因此本节课从</tspan><tspan x="1719.4" dy="15.4">科学探究和生活实际经验入手，充分利用实验</tspan><tspan x="1719.4" dy="15.4">研究物质的性质与反应，再从结构角度深化认</tspan><tspan x="1719.4" dy="15.4">识。通过这样的设置培养学生的科学态度和探</tspan><tspan x="1719.4" dy="15.4">究精神。</tspan></text></g>
<g id="q2b"><rect class="a" x="1713.4" y="915.5" width="247.6" height="42.1"/><text class="ta" x="1719.4" y="929">(过渡：根据新课程标准，教材特点和学生实<tspan x="1719.4" dy="15.4">际，我确定了如下教学目标：)</tspan></text></g>
<g id="q3"><rect class="a" x="1632.5" y="1087.3" width="84.2" height="26.7"/><text class="ta" x="1638.5" y="1100.8">三、教学目标</text></g>
<g id="q3a"><rect class="a" x="1737.7" y="999" width="93.4" height="26.7"/><text class="ta" x="1743.7" y="1012.5">【知识与技能】</text></g>
<g id="q3a1"><rect class="a" x="1852.6" y="982.1" width="247.6" height="57.5"/><text class="ta" x="1858.6" y="995.6">知道烃的衍生物;认识到物质的结构与性质之<tspan x="1858.6" dy="15.4">间的关系;能说出乙醇的物理性质和化学性质;</tspan><tspan x="1858.6" dy="15.4">能写出乙醇的结构。</tspan></text></g>
<g id="q3b"><rect class="a" x="1737.7" y="1073.3" width="93.4" height="26.7"/><text class="ta" x="1743.7" y="1086.8">【过程与方法】</text></g>
<g id="q3b1"><rect class="a" x="1852.6" y="1065.6" width="247.6" height="42.1"/><text class="ta" x="1858.6" y="1079.1">通过乙醇的结构和性质的学习，建立"(组成)<tspan x="1858.6" dy="15.4">结构—性质—用途"的有机物学习模式。</tspan></text></g>
<g id="q3c"><rect class="a" x="1737.7" y="1174.4" width="129.9" height="26.7"/><text class="ta" x="1743.7" y="1187.9">【情感态度与价值观】</text></g>
<g id="q3c1"><rect class="a" x="1888.6" y="1131.6" width="247.6" height="42.1"/><text class="ta" x="1894.6" y="1145.1">体验科学探究的艰辛和乐趣，逐步形成严谨的<tspan x="1894.6" dy="15.4">科学态度，认识化学与人类生活的密切关系。</tspan></text></g>
<g id="q3c2"><rect class="a" x="1888.6" y="1198.9" width="247.6" height="42.1"/><text class="ta" x="1894.6" y="1212.4">(过渡：根据新课标要求与教学目标，我确定<tspan x="1894.6" dy="15.4">了如下的重难点：)</tspan></text></g>
<g id="q4"><rect class="a" x="1632.5" y="1297.8" width="95.5" height="26.7"/><text class="ta" x="1638.5" y="1311.3">四、教学重难点</text></g>
<g id="q4a"><rect class="a" x="1749" y="1268.4" width="153.6" height="26.7"/><text class="ta" x="1755" y="1281.9">【重点】乙醇的化学性质。</text></g>
<g id="q4b"><rect class="a" x="1749" y="1327.3" width="223.8" height="26.7"/><text class="ta" x="1755" y="1340.8">【难点】建立乙醇分子的立体结构模型。</text></g>
<g id="q4b1"><rect class="a" x="1993.8" y="1318.9" width="247.6" height="42.1"/><text class="ta" x="1999.8" y="1332.4">(过渡：为了解决重点，突破重点，我确定了<tspan x="1999.8" dy="15.4">如下的教学方法：)</tspan></text></g>
<g id="q5"><rect class="a" x="1632.5" y="1416.4" width="84.2" height="26.7"/><text class="ta" x="1638.5" y="1429.9">五、教学方法</text></g>
<g id="q5a"><rect class="a" x="1737.7" y="1387.6" width="117.9" height="26.7"/><text class="ta" x="1743.7" y="1401.1">实验探究法，讲授法</text></g>
<g id="q5b"><rect class="a" x="1737.7" y="1438.1" width="247.6" height="42.1"/><text class="ta" x="1743.7" y="1451.6">(过渡：好的教学方法应该在好的教学设计中<tspan x="1743.7" dy="15.4">应用，接下来我将重点说明我的教学过程。)</tspan></text></g>
<g id="q6"><rect class="a" x="1632.5" y="2311.5" width="84.2" height="26.7"/><text class="ta" x="1638.5" y="2325">六、教学过程</text></g>
<g id="q6a"><rect class="a" x="1737.7" y="1852" width="247.6" height="57.5"/><text class="ta" x="1743.7" y="1865.5">教学过程包括了四个环节：导入新课、新课讲<tspan x="1743.7" dy="15.4">授、巩固提升、小结作业。我将会这样展开我</tspan><tspan x="1743.7" dy="15.4">的教学：</tspan></text></g>
<g id="q6a1"><rect class="a" x="2006.3" y="1506.2" width="105.3" height="26.7"/><text class="ta" x="2012.3" y="1519.7">环节一：导入新课</text></g>
<g id="q6a2"><rect class="a" x="2006.3" y="1557.4" width="247.6" height="104"/><text class="ta" x="2012.3" y="1570.9">在这一环节中我会以"乙醇汽油的利与弊"为话<tspan x="2012.3" dy="15.4">题，请学生谈一谈他们的想法，引发学生对社</tspan><tspan x="2012.3" dy="15.4">会问题的思考和警醒，培养学生的辩证意识。</tspan><tspan x="2012.3" dy="15.4">让学生在这个过程中意识到乙醇是一种与我们</tspan><tspan x="2012.3" dy="15.4">的生活联系密切的有机物，引入对乙醇的学习</tspan><tspan x="2012.3" dy="15.4">。</tspan></text></g>
<g id="q6a3"><rect class="a" x="2006.3" y="1685.8" width="105.3" height="26.7"/><text class="ta" x="2012.3" y="1699.3">环节二：新课讲授</text></g>
<g id="q6a4"><rect class="a" x="2006.3" y="1737" width="247.6" height="42.1"/><text class="ta" x="2012.3" y="1750.5">在这一环节中需要讲解乙醇的物理性质和化学<tspan x="2012.3" dy="15.4">性质。</tspan></text></g>
<g id="q6a5"><rect class="a" x="2006.3" y="1868.9" width="103.9" height="26.7"/><text class="ta" x="2012.3" y="1882.4">1.乙醇的物理性质</text></g>
<g id="q6a5a"><rect class="a" x="2131.2" y="1804.3" width="247.6" height="57.5"/><text class="ta" x="2137.2" y="1817.8">我会让学生通过观察乙醇的颜色、状态、气味<tspan x="2137.2" dy="15.4">，结合自己的日常生活经验，得出结论。这一</tspan><tspan x="2137.2" dy="15.4">设计可以培养学生归纳总结概括的能力。</tspan></text></g>
<g id="q6a5b"><rect class="a" x="2131.2" y="1886.4" width="247.6" height="88.3"/><text class="ta" x="2137.2" y="1899.9">在讲解乙醇的化学性质之前，我会首先提问学<tspan x="2137.2" dy="15.4">生乙醇的分子式是什么，它的结构又是怎样的</tspan><tspan x="2137.2" dy="15.4">。既然物质的结构与性质是有所关联的，那么</tspan><tspan x="2137.2" dy="15.4">能否通过探究物质的性质推知物质的结构呢，</tspan><tspan x="2137.2" dy="15.4">从而进入接下来的学习。</tspan></text></g>
<g id="q6a6"><rect class="a" x="2006.3" y="2228.1" width="103.9" height="26.7"/><text class="ta" x="2012.3" y="2241.6">2.乙醇的化学性质</text></g>
<g id="q6a6a"><rect class="a" x="2131.2" y="1999.3" width="247.6" height="42.1"/><text class="ta" x="2137.2" y="2012.8">教材涉及了两个性质：与钠的反应、氧化反应<tspan x="2137.2" dy="15.4">。</tspan></text></g>
<g id="q6a6b"><rect class="a" x="2131.2" y="2243.5" width="108.8" height="26.7"/><text class="ta" x="2137.2" y="2257">(1)乙醇与钠的反应</text></g>
<g id="q6a6b1"><rect class="a" x="2261" y="2066.7" width="247.6" height="134.8"/><text class="ta" x="2267" y="2080.2">我会首先请学生观看乙醇与钠反应的视频，<tspan x="2267" dy="15.4">请学生根据这一实验现象判断产物是哪种气体</tspan><tspan x="2267" dy="15.4">。接下来提出钠与烃不能反应，请学生判断乙</tspan><tspan x="2267" dy="15.4">醇分子中的氢的连接方式与烃分子中的氢的连</tspan><tspan x="2267" dy="15.4">接方式是否相同。接着让学生根据乙醇的分子</tspan><tspan x="2267" dy="15.4">式写出乙醇可能的结构简式，并最终通过实验</tspan><tspan x="2267" dy="15.4">讨论确定乙醇的结构简式为。在这里我会指出</tspan><tspan x="2267" dy="15.4">—OH即为羟基。</tspan></text></g>
<g id="q6a6b2"><rect class="a" x="2261" y="2224.6" width="247.6" height="88.3"/><text class="ta" x="2267" y="2238.1">在此基础上，我会让学生对比乙醇和乙烷的结<tspan x="2267" dy="15.4">构简式有何不同，由此建立乙醇分子的立体结</tspan><tspan x="2267" dy="15.4">构模型。从中提出烃的衍生物的概念，并说</tspan><tspan x="2267" dy="15.4">明之前学习的卤代烃、硝基苯都属于烃的衍生</tspan><tspan x="2267" dy="15.4">物，</tspan></text></g>
<g id="q6a6b3"><rect class="a" x="2261" y="2336.8" width="247.6" height="88.3"/><text class="ta" x="2267" y="2350.3">物质的结构和性质有着极其紧密的关联，因此<tspan x="2267" dy="15.4">请学生思考为什么乙醇和乙烷的化学性质不同</tspan><tspan x="2267" dy="15.4">，乙醇与钠反应的本质是什么，并写出相应的</tspan><tspan x="2267" dy="15.4">化学方程式，引出有关官能团的学习，由此建</tspan><tspan x="2267" dy="15.4">立有机物"结构—性质"的学习模式。</tspan></text></g>
<g id="q6a6c"><rect class="a" x="2131.2" y="2449.7" width="108.8" height="26.7"/><text class="ta" x="2137.2" y="2463.2">(2)乙醇的氧化反应</text></g>
<g id="q6b"><rect class="a" x="1737.7" y="2711.4" width="247.6" height="119.4"/><text class="ta" x="1743.7" y="2724.9">首先请学生写出乙醇在空气中燃烧的化学方程<tspan x="1743.7" dy="15.4">式，思考乙醇还能不能发生其他的氧化反应。</tspan><tspan x="1743.7" dy="15.4">接着请学生自主实验3-3，观察实验现象，根</tspan><tspan x="1743.7" dy="15.4">据教材判断生成的具有刺激性气味的气体是什</tspan><tspan x="1743.7" dy="15.4">么，铜丝的作用是什么。并且通过分析铜丝先</tspan><tspan x="1743.7" dy="15.4">变黑后变红的过程写出由乙醇生成乙醛的化学</tspan><tspan x="1743.7" dy="15.4">方程式：</tspan></text></g>
<g id="q6b1"><rect class="a" x="2006.3" y="2501.7" width="247.6" height="88.3"/><text class="ta" x="2012.3" y="2515.2">在这里我会详细讲解在乙醇生成乙醛的过程中<tspan x="2012.3" dy="15.4">，乙醇分子内的化学键是如何断裂的，由此提</tspan><tspan x="2012.3" dy="15.4">出新的问题，如果醇经催化氧化能生成醛，醛</tspan><tspan x="2012.3" dy="15.4">应该具有怎样的结构。在这一过程中培养学生</tspan><tspan x="2012.3" dy="15.4">的分析与解决问题的能力。</tspan></text></g>
<g id="q6b2"><rect class="a" x="2006.3" y="2613.9" width="247.6" height="42.1"/><text class="ta" x="2012.3" y="2627.4">最后请学生阅读教材了解其他的有关乙醇、乙<tspan x="2012.3" dy="15.4">醛、乙酸相互转化的信息。</tspan></text></g>
<g id="q6b3"><rect class="a" x="2006.3" y="2682" width="105.3" height="26.7"/><text class="ta" x="2012.3" y="2695.5">环节三：巩固提升</text></g>
<g id="q6b4"><rect class="a" x="2006.3" y="2733.2" width="247.6" height="42.1"/><text class="ta" x="2012.3" y="2746.7">在这一环节我会请学生完成学案上有关乙醇的<tspan x="2012.3" dy="15.4">题，达到学以致用的目的。</tspan></text></g>
<g id="q6b5"><rect class="a" x="2006.3" y="2801.2" width="105.3" height="26.7"/><text class="ta" x="2012.3" y="2814.7">环节四：小结作业</text></g>
<g id="q6b6"><rect class="a" x="2006.3" y="2852.4" width="247.6" height="72.9"/><text class="ta" x="2012.3" y="2865.9">化学学习不仅要关注学生学习的结果，还要关<tspan x="2012.3" dy="15.4">心学生学习的过程。课程最后，我会请学生回</tspan><tspan x="2012.3" dy="15.4">答本堂课的收获有哪些，可以回答学到了哪些</tspan><tspan x="2012.3" dy="15.4">知识，也可以回答学习的感受。</tspan></text></g>
<g id="q6b7"><rect class="a" x="2006.3" y="2949.9" width="247.6" height="88.3"/><text class="ta" x="2012.3" y="2963.4">我也会给学生布置开放性的作业，比如将本节<tspan x="2012.3" dy="15.4">课的知识应用于生活生产中，或者让学生搜集</tspan><tspan x="2012.3" dy="15.4">相关资料。这一作业的设置也能够体现出化学</tspan><tspan x="2012.3" dy="15.4">与实际生活的联系，让学生感受到化学的无处</tspan><tspan x="2012.3" dy="15.4">不在。</tspan></text></g>
<g id="q7"><rect class="a" x="1632.5" y="3086" width="84.2" height="26.7"/><text class="ta" x="1638.5" y="3099.5">七、板书设计</text></g>
<g id="q7a"><rect class="a" x="1737.7" y="3062.9" width="247.6" height="72.9"/><text class="ta" x="1743.7" y="3076.4">最后说一下我的板书，板书内容包括乙醇的物<tspan x="1743.7" dy="15.4">理性质、化学性质，乙醇的化学性质有2个，</tspan><tspan x="1743.7" dy="15.4">我将其提纲挈领地反映在板书里，使于学生清</tspan><tspan x="1743.7" dy="15.4">楚它们之间的逻辑关系。</tspan></text></g>

<g id="g1"><rect class="g" x="1632.5" y="3161.1" width="60.4" height="26.7"/><text class="tg" x="1638.5" y="3174.6">教学目标</text></g>
<g id="g2"><rect class="g" x="1632.5" y="3253.7" width="93.3" height="26.7"/><text class="tg" x="1638.5" y="3267.2">1.知识与技能：</text></g>
<g id="g2a"><rect class="g" x="1746.8" y="3211.6" width="247.6" height="42.1"/><text class="tg" x="1752.8" y="3225.1">(1)知道大气的主要污染物，知道大气污染物<tspan x="1752.8" dy="15.4">的来源及危害;</tspan></text></g>
<g id="g2b"><rect class="g" x="1746.8" y="3278.9" width="247.6" height="42.1"/><text class="tg" x="1752.8" y="3292.4">(2)知道酸雨、臭氧空洞、温室效应的形成原<tspan x="1752.8" dy="15.4">因，危害及防治</tspan></text></g>
<g id="g3"><rect class="g" x="1632.5" y="3361.7" width="93.3" height="26.7"/><text class="tg" x="1638.5" y="3375.2">2.过程与方法：</text></g>
<g id="g3a"><rect class="g" x="1746.8" y="3346.3" width="247.6" height="57.5"/><text class="tg" x="1752.8" y="3359.8">通过对大气主要污染物的认识，了解其来源和<tspan x="1752.8" dy="15.4">危害，通过分析讨论来培养学生学会运用知识</tspan><tspan x="1752.8" dy="15.4">的能力，认识到化学知识在生活中的重要性。</tspan></text></g>
<g id="g4"><rect class="g" x="1632.5" y="3698.5" width="128.4" height="26.7"/><text class="tg" x="1638.5" y="3712">3.情感态度与价值观：</text></g>
<g id="g4a"><rect class="g" x="1781.9" y="3428.4" width="247.6" height="88.3"/><text class="tg" x="1787.9" y="3441.9">学生分析大气主要污染物的种类、来源、危害<tspan x="1787.9" dy="15.4">，充分认识到人类生活与自然界的矛盾，充分</tspan><tspan x="1787.9" dy="15.4">认识到科学发展的局限性，从而进一步领悟科</tspan><tspan x="1787.9" dy="15.4">学发展观的深刻内涵，树立用科学来促进人与</tspan><tspan x="1787.9" dy="15.4">自然的和谐关系。</tspan></text></g>
<g id="g4b"><rect class="g" x="1781.9" y="3542" width="200.6" height="26.7"/><text class="tg" x="1787.9" y="3555.5">教学重点：大气主要污染物及其危害</text></g>
<g id="g4c"><rect class="g" x="1781.9" y="3593.2" width="247.6" height="42.1"/><text class="tg" x="1787.9" y="3606.7">教学难点：减少或消除酸雨、臭氧空洞、温室<tspan x="1787.9" dy="15.4">效应的方法</tspan></text></g>
<g id="g4d"><rect class="g" x="1781.9" y="3660.6" width="106.6" height="26.7"/><text class="tg" x="1787.9" y="3674.1">教学用具：多媒体</text></g>
<g id="g4e"><rect class="g" x="1781.9" y="3712.5" width="247.6" height="26.7"/><text class="tg" x="1787.9" y="3726">教学方法：阅读、交流、讨论、联系实际生活</text></g>
<g id="g4f"><rect class="g" x="1781.9" y="3828.2" width="129.8" height="26.7"/><text class="tg" x="1787.9" y="3841.7">【创设情境导入新课】</text></g>
<g id="g4f1"><rect class="g" x="1932.7" y="3828.2" width="82.8" height="26.7"/><text class="tg" x="1938.7" y="3841.7">多媒体展示：</text></g>
<g id="g4f1a"><rect class="g" x="2036.5" y="3763.7" width="247.6" height="42.1"/><text class="tg" x="2042.5" y="3777.2">垣曲县历山视频，山西太原雾霾视频从而导入<tspan x="2042.5" dy="15.4">新课齐声诵读《我们和地球相依为命》</tspan></text></g>
<g id="g4f1b"><rect class="g" x="2036.5" y="3831.8" width="141.7" height="26.7"/><text class="tg" x="2042.5" y="3845.3">课题第四章保护生存环境</text></g>
<g id="g4f1c"><rect class="g" x="2036.5" y="3884.4" width="118.6" height="26.7"/><text class="tg" x="2042.5" y="3897.9">第一节改善大气质量</text></g>
<g id="g4f1c1"><rect class="g" x="2176.1" y="3884.4" width="117.8" height="26.7"/><text class="tg" x="2182.1" y="3897.9">一、大气污染的危害</text></g>
<g id="g4g"><rect class="g" x="1781.9" y="3936.3" width="106.6" height="26.7"/><text class="tg" x="1787.9" y="3949.8">【出示学习目标】</text></g>
<g id="g5"><rect class="g" x="1632.5" y="3988.2" width="210.5" height="26.7"/><text class="tg" x="1638.5" y="4001.7">1.知道大气主要污染物及其来源、危害</text></g>
<g id="g6"><rect class="g" x="1632.5" y="4040.1" width="247.6" height="42.1"/><text class="tg" x="1638.5" y="4053.6">2.知道酸雨、臭氧空洞、温室效应产生的原因<tspan x="1638.5" dy="15.4">、造成的危害及防治</tspan></text></g>
<g id="g6a"><rect class="g" x="1901.1" y="4047.8" width="218.9" height="26.7"/><text class="tg" x="1907.1" y="4061.3">【自主学习合作交流1】大气污染的危害</text></g>
<g id="g6a1"><rect class="g" x="2141" y="4040.1" width="247.6" height="42.1"/><text class="tg" x="2147" y="4053.6">学生阅读课本P72—73相关内容讨论回答下<tspan x="2147" dy="15.4">列问题：</tspan></text></g>
<g id="g7"><rect class="g" x="1632.5" y="4107.5" width="166.3" height="26.7"/><text class="tg" x="1638.5" y="4121">1、干燥洁净空气的组成成分?</text></g>
<g id="g8"><rect class="g" x="1632.5" y="4160" width="166.3" height="26.7"/><text class="tg" x="1638.5" y="4173.5">2、主要的大气污染物有哪些?</text></g>
<g id="g9"><rect class="g" x="1632.5" y="4212" width="154.4" height="26.7"/><text class="tg" x="1638.5" y="4225.5">3、大气污染物的主要来源?</text></g>
<g id="g10"><rect class="g" x="1632.5" y="4301.8" width="119.3" height="26.7"/><text class="tg" x="1638.5" y="4315.3">4、大气污染的危害?</text></g>
<g id="g10a"><rect class="g" x="1772.8" y="4263.2" width="247.6" height="42.1"/><text class="tg" x="1778.8" y="4276.7">学生阅读，学习讨论交流后回答，教师点评补<tspan x="1778.8" dy="15.4">充。</tspan></text></g>
<g id="g10b"><rect class="g" x="1772.8" y="4331.2" width="160.7" height="26.7"/><text class="tg" x="1778.8" y="4344.7">【自主学习合作交流2】酸雨</text></g>
<g id="g10b1"><rect class="g" x="1954.5" y="4331.2" width="233" height="26.7"/><text class="tg" x="1960.5" y="4344.7">阅读课本P73相关内容讨论回答下列问题：</text></g>
<g id="g11"><rect class="g" x="1632.5" y="4383.9" width="247.6" height="42.1"/><text class="tg" x="1638.5" y="4397.4">1、什么是酸雨?它是怎样形成的?请用化学方<tspan x="1638.5" dy="15.4">程式来表示酸雨的形成过程?</tspan></text></g>
<g id="g12"><rect class="g" x="1632.5" y="4450.5" width="119.3" height="26.7"/><text class="tg" x="1638.5" y="4464">2、酸雨有哪些危害?</text></g>
<g id="g13"><rect class="g" x="1632.5" y="4539.6" width="83.5" height="26.7"/><text class="tg" x="1638.5" y="4553.1">3、如何防治?</text></g>
<g id="g13a"><rect class="g" x="1737" y="4502.4" width="247.6" height="42.1"/><text class="tg" x="1743" y="4515.9">学生阅读，学习讨论交流后回答，教师点评补<tspan x="1743" dy="15.4">充。</tspan></text></g>
<g id="g13b"><rect class="g" x="1737" y="4569.8" width="195.7" height="26.7"/><text class="tg" x="1743" y="4583.3">【自主学习合作交流3】臭氧层受损</text></g>
<g id="g13b1"><rect class="g" x="1953.7" y="4569.8" width="219.6" height="26.7"/><text class="tg" x="1959.7" y="4583.3">阅读教材P74"臭氧层受损"内容，回答：</text></g>
<g id="g14"><rect class="g" x="1632.5" y="4621.7" width="131.2" height="26.7"/><text class="tg" x="1638.5" y="4635.2">1、臭氧层有何作用呢?</text></g>
<g id="g15"><rect class="g" x="1632.5" y="4673.6" width="223.8" height="26.7"/><text class="tg" x="1638.5" y="4687.1">2、什么原因导致了"臭氧空洞"的形成呢?</text></g>
<g id="g16"><rect class="g" x="1632.5" y="4725.5" width="154.4" height="26.7"/><text class="tg" x="1638.5" y="4739">3、臭氧层受损造成的危害?</text></g>
<g id="g17"><rect class="g" x="1632.5" y="4997" width="236.5" height="26.7"/><text class="tg" x="1638.5" y="5010.5">4、为了保护臭氧层，人类采取了哪些措施?</text></g>
<g id="g17a"><rect class="g" x="1890" y="4777.4" width="247.6" height="42.1"/><text class="tg" x="1896" y="4790.9">学生阅读，学习讨论交流后回答，教师点评补<tspan x="1896" dy="15.4">充、引导分析</tspan></text></g>
<g id="g17b"><rect class="g" x="1890" y="4844.8" width="182.4" height="26.7"/><text class="tg" x="1896" y="4858.3">氟氯代烷是如何破坏臭氧层的呢?</text></g>
<g id="g17c"><rect class="g" x="1890" y="4896.7" width="75.8" height="26.7"/><text class="tg" x="1896" y="4910.2">O3→O2+O</text></g>
<g id="g17d"><rect class="g" x="1890" y="4948.6" width="106.6" height="26.7"/><text class="tg" x="1896" y="4962.1">Cl+O3→ClO+O2</text></g>
<g id="g17e"><rect class="g" x="1890" y="5000.5" width="99.6" height="26.7"/><text class="tg" x="1896" y="5014">ClO+O→Cl+O2</text></g>
<g id="g17f"><rect class="g" x="1890" y="5053.1" width="141.7" height="26.7"/><text class="tg" x="1896" y="5066.6">总反应式为：2O3→3O2</text></g>
<g id="g17g"><rect class="g" x="1890" y="5123.3" width="247.6" height="42.1"/><text class="tg" x="1896" y="5136.8">【自主学习合作交流4】温室效应和全球气候<tspan x="1896" dy="15.4">变暖</tspan></text></g>
<g id="g17g1"><rect class="g" x="2158.6" y="5105" width="195.7" height="26.7"/><text class="tg" x="2164.6" y="5118.5">阅读教材P76完成"思考与交流"内容</text></g>
<g id="g17g2"><rect class="g" x="2158.6" y="5157.7" width="211.1" height="26.7"/><text class="tg" x="2164.6" y="5171.2">学生讨论交流后回答，教师点评补充。</text></g>
<g id="g17h"><rect class="g" x="1890" y="5209.6" width="82.8" height="26.7"/><text class="tg" x="1896" y="5223.1">【课堂小结】</text></g>
<g id="g17h1"><rect class="g" x="1993.8" y="5209.6" width="117.8" height="26.7"/><text class="tg" x="1999.8" y="5223.1">一、大气污染的危害</text></g>
<g id="g18"><rect class="g" x="1632.5" y="5305.7" width="247.6" height="42.1"/><text class="tg" x="1638.5" y="5319.2">1.酸雨2.臭氧层受损3.温室效应与全球气候变<tspan x="1638.5" dy="15.4">暖</tspan></text></g>
<g id="g18a"><rect class="g" x="1901.1" y="5262.2" width="75" height="26.7"/><text class="tg" x="1907.1" y="5275.7">(1)形成原因</text></g>
<g id="g18b"><rect class="g" x="1901.1" y="5314.1" width="51.2" height="26.7"/><text class="tg" x="1907.1" y="5327.6">(2)危害</text></g>
<g id="g18c"><rect class="g" x="1901.1" y="5366.7" width="51.2" height="26.7"/><text class="tg" x="1907.1" y="5380.2">(3)防治</text></g>
<g id="g18c1"><rect class="g" x="1973.3" y="5366.7" width="82.1" height="26.7"/><text class="tg" x="1979.3" y="5380.2">【学以致用】</text></g>
<g id="g19"><rect class="g" x="1632.5" y="5418.6" width="111.6" height="26.7"/><text class="tg" x="1638.5" y="5432.1">1、P72思考与交流</text></g>
<g id="g20"><rect class="g" x="1632.5" y="5470.5" width="154.4" height="26.7"/><text class="tg" x="1638.5" y="5484">2、课后作业：P811、2、3</text></g>
<g id="g20a"><rect class="g" x="1807.9" y="5470.5" width="82.8" height="26.7"/><text class="tg" x="1813.9" y="5484">【课后拓展】</text></g>
<g id="g20a1"><rect class="g" x="1911.7" y="5470.5" width="200.6" height="26.7"/><text class="tg" x="1917.7" y="5484">查阅资料，了解世界八大公害事件。</text></g>

<g id="b1"><rect class="b" x="1699.9" y="5521.8" width="161.3" height="27.3"/><text class="tb" x="1705.9" y="5535.5">★ 高二化学优秀教学设计5篇</text></g>
<g id="b2"><rect class="b" x="1699.9" y="5573.7" width="166.2" height="27.3"/><text class="tb" x="1705.9" y="5587.4">★ 关于高二化学教学设计案例</text></g>
<g id="b3"><rect class="b" x="1699.9" y="5625.6" width="194.3" height="27.3"/><text class="tb" x="1705.9" y="5639.3">★ 2021高二化学选修课程教学设计</text></g>
<g id="b4"><rect class="b" x="1699.9" y="5677.4" width="201.3" height="27.3"/><text class="tb" x="1705.9" y="5691.1">★ 关于高二化学学科教学设计与实施</text></g>
<g id="b5"><rect class="b" x="1699.9" y="5729.8" width="177.5" height="27.3"/><text class="tb" x="1705.9" y="5743.5">★ 关于高二化学理论课教学设计</text></g>
<g id="b6"><rect class="b" x="1699.9" y="5781.7" width="119.2" height="27.3"/><text class="tb" x="1705.9" y="5795.4">★ 化学教学设计模板</text></g>
<g id="b7"><rect class="b" x="1699.9" y="5833.5" width="247.6" height="42.6"/><text class="tb" x="1705.9" y="5847.2">★《用途广泛的金属材料》教案高二化学必<tspan x="1705.9" dy="15.4">修一2021</tspan></text></g>
<g id="b8"><rect class="b" x="1699.9" y="5901.2" width="208.3" height="27.3"/><text class="tb" x="1705.9" y="5914.9">★ 高中化学必修课教学计划及进度5篇</text></g>
<g id="b9"><rect class="b" x="1699.9" y="5953.1" width="220.3" height="27.3"/><text class="tb" x="1705.9" y="5966.8">★ 高中化学必修课程鲁教版教学计划5篇</text></g>
<g id="b10"><rect class="b" x="1699.9" y="6005" width="229.4" height="27.3"/><text class="tb" x="1705.9" y="6018.7">★ 苏教版高中化学必修课程教学计划2021</text></g>
</g>
</svg>
